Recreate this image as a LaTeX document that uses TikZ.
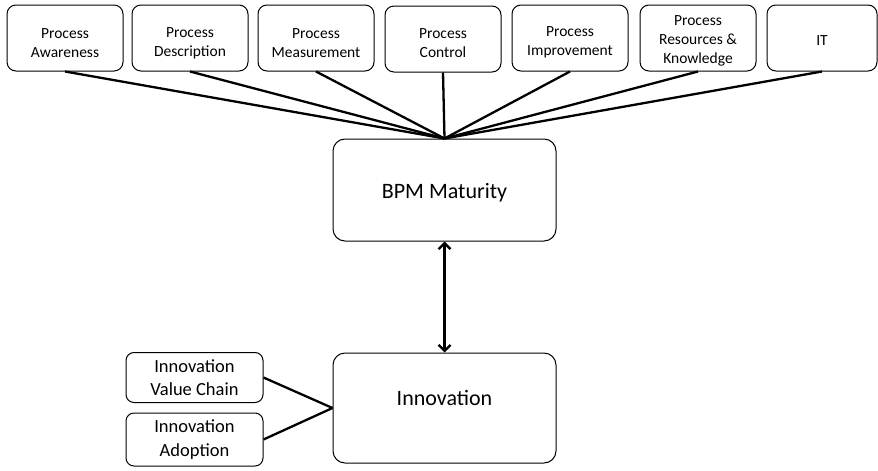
\documentclass[tikz,border=0pt]{standalone}
\usepackage{fontspec}
\setmainfont{Carlito}
\usetikzlibrary{arrows.meta}
\tikzset{
  topbox/.style={draw=black, line width=1pt, rounded corners=9pt, minimum width=116pt, minimum height=66pt, inner sep=2pt},
  toptext/.style={font=\fontsize{15.5}{19}\selectfont, align=center},
  bigbox/.style={draw=black, line width=1pt, rounded corners=12pt, minimum width=223pt, minimum height=102pt},
  bigtext/.style={font=\fontsize{22}{26}\selectfont},
  smallbox/.style={draw=black, line width=1pt, rounded corners=8pt, minimum width=137pt, minimum height=50pt, inner sep=2pt},
  smalltext/.style={font=\fontsize{18.5}{23.5}\selectfont, align=center},
  conn/.style={line width=2.3pt, black},
  dbl/.style={line width=2.3pt, black, {Straight Barb[length=6pt,width=12pt]}-{Straight Barb[length=6pt,width=12pt]}}
}
\begin{document}
\begin{tikzpicture}[x=1pt,y=-1pt]
\useasboundingbox (0,0) rectangle (878,471);
\node[topbox] (pa) at (65,38) {};
\node[topbox] (pd) at (190,38) {};
\node[topbox] (pm) at (316,38) {};
\node[topbox] (pc) at (443,39) {};
\node[topbox] (pi) at (570,38) {};
\node[topbox] (pr) at (698,38) {};
\node[topbox, minimum width=110pt] (it) at (822,38) {};
\node[toptext] (pat) at (pa.center) [yshift=-5pt] {Process\\Awareness};
\node[toptext] (pdt) at (pd.center) [yshift=-5pt] {Process\\Description};
\node[toptext] (pmt) at (pm.center) [yshift=-5pt] {Process\\Measurement};
\node[toptext] (pct) at (pc.center) [yshift=-4pt] {Process\\Control};
\node[toptext] (pit) at (pi.center) [yshift=-4pt] {Process\\Improvement};
\node[toptext] (prt) at (pr.center) [yshift=-3pt] {Process\\Resources \&\\Knowledge};
\node[toptext] (itt) at (it.center) [yshift=-3pt] {IT};
\node[bigbox] (bpm) at (444.5,190) {};
\node[bigtext] (bpmt) at (bpm.center) [yshift=-3pt] {BPM Maturity};
\node[bigbox, minimum height=110pt] (inn) at (444.5,408) {};
\node[bigtext] (innt) at (inn.center) [yshift=10pt] {Innovation};
\node[smallbox] (ivc) at (194.5,377.5) {};
\node[smalltext] (ivct) at (ivc.center) {Innovation\\Value Chain};
\node[smallbox, minimum height=53pt] (iad) at (194.5,439.5) {};
\node[smalltext] (iadt) at (iad.center) {Innovation\\Adoption};
\foreach \n in {pa,pd,pm,pc,pi,pr,it} \draw[conn] (\n.south) -- (bpm.north);
\draw[dbl] (bpm.south) -- (inn.north);
\draw[conn] (ivc.east) -- (inn.west);
\draw[conn] (iad.east) -- (inn.west);
\end{tikzpicture}
\end{document}
